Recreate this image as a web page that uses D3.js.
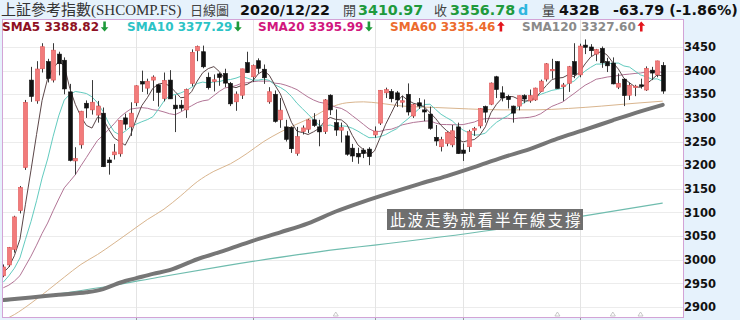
<!DOCTYPE html>
<html>
<head>
<meta charset="utf-8">
<script src="https://cdn.jsdelivr.net/npm/d3@7"></script>
<style>
  body { margin: 0; background: #e6f2fc; }
  svg { display: block; }
</style>
</head>
<body>
<div id="chart"></div>
<script>
// ---- DATA ----
const dates = ["2020-06-30",
  "2020-07-01","2020-07-02","2020-07-03","2020-07-06","2020-07-07","2020-07-08","2020-07-09","2020-07-10",
  "2020-07-13","2020-07-14","2020-07-15","2020-07-16","2020-07-17","2020-07-20","2020-07-21","2020-07-22",
  "2020-07-23","2020-07-24","2020-07-27","2020-07-28","2020-07-29","2020-07-30","2020-07-31",
  "2020-08-03","2020-08-04","2020-08-05","2020-08-06","2020-08-07","2020-08-10","2020-08-11","2020-08-12",
  "2020-08-13","2020-08-14","2020-08-17","2020-08-18","2020-08-19","2020-08-20","2020-08-21","2020-08-24",
  "2020-08-25","2020-08-26","2020-08-27","2020-08-28","2020-08-31",
  "2020-09-01","2020-09-02","2020-09-03","2020-09-04","2020-09-07","2020-09-08","2020-09-09","2020-09-10",
  "2020-09-11","2020-09-14","2020-09-15","2020-09-16","2020-09-17","2020-09-18","2020-09-21","2020-09-22",
  "2020-09-23","2020-09-24","2020-09-25","2020-09-28","2020-09-29","2020-09-30",
  "2020-10-09","2020-10-12","2020-10-13","2020-10-14","2020-10-15","2020-10-16","2020-10-19","2020-10-20",
  "2020-10-21","2020-10-22","2020-10-23","2020-10-26","2020-10-27","2020-10-28","2020-10-29","2020-10-30",
  "2020-11-02","2020-11-03","2020-11-04","2020-11-05","2020-11-06","2020-11-09","2020-11-10","2020-11-11",
  "2020-11-12","2020-11-13","2020-11-16","2020-11-17","2020-11-18","2020-11-19","2020-11-20","2020-11-23",
  "2020-11-24","2020-11-25","2020-11-26","2020-11-27","2020-11-30",
  "2020-12-01","2020-12-02","2020-12-03","2020-12-04","2020-12-07","2020-12-08","2020-12-09","2020-12-10",
  "2020-12-11","2020-12-14","2020-12-15","2020-12-16","2020-12-17","2020-12-18","2020-12-21","2020-12-22"];

const opens = [2966,
  2989,3022,3104,3195,3380,3336,3404,3419,3380,3435,3422,3355,3209,3243,3331,3317,3306,3310,3211,3222,3224,3300,3281,
  3332,3377,3363,3380,3370,3341,3380,3327,3327,3317,3373,3442,3440,3386,3377,3393,3394,3373,3334,3348,3417,
  3387,3421,3403,3334,3350,3296,3281,3280,3225,3271,3276,3296,3281,3271,3348,3290,3274,3262,3236,3225,3232,3234,
  3264,3289,3353,3356,3353,3334,3350,3304,3332,3317,3308,3259,3239,3246,3243,3281,
  3232,3239,3274,3283,3324,3329,3387,3353,3345,3325,3325,3347,3336,3338,3356,3382,3400,3419,3366,3373,3419,
  3391,3454,3450,3435,3447,3419,3416,3365,3382,3348,3365,3370,3359,3401,3391,3410.97];

const highs = [2990,
  3027,3093,3156,3338,3408,3420,3458,3425,3458,3440,3428,3372,3238,3315,3337,3380,3336,3322,3217,3245,3295,3309,3333,
  3369,3400,3383,3390,3372,3396,3401,3348,3338,3362,3445,3453,3453,3396,3392,3396,3404,3376,3356,3404,3440,
  3413,3426,3413,3365,3358,3342,3296,3282,3281,3284,3298,3310,3296,3340,3350,3318,3290,3272,3245,3237,3236,3238,
  3282,3359,3364,3361,3357,3347,3373,3330,3342,3339,3324,3285,3260,3271,3285,3290,
  3246,3275,3281,3321,3326,3375,3389,3367,3349,3326,3347,3350,3360,3364,3381,3416,3425,3420,3374,3410,3458,
  3457,3466,3456,3446,3451,3427,3428,3394,3384,3375,3370,3383,3409,3408,3421,3418];

const lows = [2963,
  2985,3015,3098,3190,3334,3330,3396,3375,3375,3390,3350,3208,3180,3235,3300,3307,3290,3196,3180,3212,3218,3275,3262,
  3325,3355,3350,3336,3324,3335,3340,3270,3315,3300,3367,3420,3405,3360,3356,3368,3365,3325,3315,3340,3395,
  3376,3394,3372,3330,3290,3279,3250,3226,3220,3265,3268,3281,3240,3266,3306,3262,3248,3220,3207,3203,3215,3200,
  3258,3285,3342,3333,3323,3322,3305,3300,3319,3293,3275,3241,3229,3240,3238,3224,
  3209,3228,3262,3278,3290,3327,3342,3335,3320,3290,3316,3331,3332,3336,3355,3377,3383,3362,3336,3355,3384,
  3386,3435,3431,3420,3406,3397,3371,3361,3325,3338,3346,3362,3357,3380,3386,3351];

const closes = [2984.67,
  3025.98,3090.57,3152.81,3332.88,3345.34,3403.44,3450.59,3383.32,3443.29,3414.62,3361.30,3210.10,3214.13,3314.15,
  3320.90,3333.16,3325.11,3196.77,3205.23,3227.96,3294.55,3286.82,3310.01,
  3367.97,3371.69,3377.56,3386.46,3354.04,3379.25,3340.29,3319.27,3320.73,3360.10,3438.80,3451.09,3408.13,3363.90,
  3380.68,3385.64,3373.58,3329.74,3350.44,3403.81,3395.68,
  3410.61,3404.80,3384.98,3355.37,3292.59,3316.42,3254.63,3234.82,3260.35,3278.81,3295.68,3283.92,3270.44,3338.09,
  3316.94,3274.30,3279.71,3223.18,3219.42,3217.53,3224.36,3218.05,
  3272.08,3358.47,3359.75,3340.52,3338.09,3336.36,3312.52,3328.10,3325.03,3312.50,3278.00,3251.12,3254.32,3269.24,
  3272.74,3224.53,
  3225.12,3271.07,3277.44,3320.13,3312.16,3373.73,3360.15,3342.20,3338.68,3310.10,3346.97,3339.90,3347.30,3363.09,
  3377.73,3414.49,3402.82,3362.33,3369.73,3408.31,3391.76,
  3451.94,3449.38,3442.14,3444.58,3416.60,3410.18,3371.96,3373.28,3347.19,3369.12,3367.23,3366.98,3404.87,3394.90,
  3420.57,3356.78];

// closes of the 19 sessions before the window (feed the short averages at the left edge)
const priorCloses = [2915.43,2921.40,2923.37,2919.25,2930.80,2937.77,2956.11,2943.75,2920.90,2919.74,
  2890.03,2931.75,2934.96,2939.32,2967.63,2965.27,2970.62,2979.55,2961.52];

// long averages: [session index, value]
const sma60Pts = [[0,2872],[2,2884],[5,2908],[8,2935],[11,2963],[14,2990],[17,3011],[20,3035],[23,3060],
  [26,3085],[29,3107],[32,3135],[35,3165],[38,3187],[41,3203],[44,3225],[47,3250],[50,3270],[53,3287],
  [56,3303],[59,3322],[62,3332],[65,3334],[68,3331],[72,3325],[78,3322],[84,3319],[90,3317],[96,3317],
  [102,3320],[108,3325],[114,3331],[119,3335.46]];
const sma120Pts = [[0,2915],[5,2920],[10,2926],[15,2931],[18,2938],[20,2947],[22,2955],[24,2961],[27,2970],
  [30,2978],[35,3001],[40,3020],[45,3040],[50,3058],[55,3077],[60,3102],[65,3123],[70,3142],[75,3160],
  [80,3177],[85,3196],[90,3216],[95,3234],[100,3256],[105,3275],[110,3295],[115,3314],[119,3327.60]];
const sma240Pts = [[0,2912],[20,2946],[28,2963],[40,2987],[61,3023],[67,3031],[89,3064],[104,3091],[119,3120]];

const eventIdx = [60, 100, 110, 115];
const yTicks = [2900,2950,3000,3050,3100,3150,3200,3250,3300,3350,3400,3450];

const legend = [
  {name: "SMA5",   value: "3388.82", up: false, color: "#8e1023"},
  {name: "SMA10",  value: "3377.29", up: false, color: "#2cc3c6"},
  {name: "SMA20",  value: "3395.99", up: false, color: "#d1177e"},
  {name: "SMA60",  value: "3335.46", up: true,  color: "#ec6b2d"},
  {name: "SMA120", value: "3327.60", up: true,  color: "#8a8a8a"}
];
const legendX = [2, 127, 258, 390, 522];

// ---- SETUP ----
const width = 740, height = 320;
const plot = {left: 2, top: 19, right: 683, bottom: 317};

const svg = d3.select("#chart").append("svg")
  .attr("width", width).attr("height", height);

svg.append("rect").attr("width", width).attr("height", height).attr("fill", "#e6f2fc");

svg.append("defs").append("clipPath").attr("id", "clip")
  .append("rect")
  .attr("x", plot.left).attr("y", plot.top)
  .attr("width", plot.right - plot.left).attr("height", plot.bottom - plot.top);

svg.append("rect")
  .attr("x", plot.left).attr("y", plot.top)
  .attr("width", plot.right - plot.left).attr("height", plot.bottom - plot.top)
  .attr("fill", "#fff");

const x = d3.scalePoint().domain(d3.range(dates.length)).range([3.3, 662.7]);
const xi = d3.scaleLinear().domain([0, dates.length - 1]).range([3.3, 662.7]);
const y = d3.scaleLinear().domain([2900, 3450]).range([307, 47]);

// ---- GRID ----
const grid = svg.append("g").attr("clip-path", "url(#clip)");
grid.selectAll(".hg").data(yTicks).enter().append("line")
  .attr("x1", plot.left).attr("x2", plot.right)
  .attr("y1", d => Math.round(y(d)) + 0.5).attr("y2", d => Math.round(y(d)) + 0.5)
  .attr("stroke", "#ececec");

const monthStarts = dates.map((d, i) => i).filter(i => i > 5 && dates[i].slice(5, 7) !== dates[i - 1].slice(5, 7));
grid.selectAll(".vg").data(monthStarts).enter().append("line")
  .attr("x1", d => Math.round(x(d)) + 0.5).attr("x2", d => Math.round(x(d)) + 0.5)
  .attr("y1", plot.top).attr("y2", plot.bottom)
  .attr("stroke", "#e4e4e4");

svg.selectAll(".mt").data(monthStarts).enter().append("line")
  .attr("x1", d => Math.round(x(d)) + 0.5).attr("x2", d => Math.round(x(d)) + 0.5)
  .attr("y1", plot.bottom).attr("y2", plot.bottom + 3)
  .attr("stroke", "#9a9a9a");

// ---- MOVING AVERAGES ----
function sma(n) {
  const all = priorCloses.concat(closes);
  const off = priorCloses.length;
  return closes.map((c, i) => {
    const j = i + off;
    if (j + 1 < n) return null;
    return d3.mean(all.slice(j - n + 1, j + 1));
  });
}

const lines = svg.append("g").attr("clip-path", "url(#clip)");
const ptLine = d3.line().x(d => xi(d[0])).y(d => y(d[1])).curve(d3.curveMonotoneX);
const smaLine = d3.line().defined(d => d != null).x((d, i) => x(i)).y(d => y(d));

lines.append("path").attr("d", ptLine(sma240Pts))
  .attr("fill", "none").attr("stroke", "#6fbcae").attr("stroke-width", 1.2);
lines.append("path").attr("d", ptLine(sma60Pts))
  .attr("fill", "none").attr("stroke", "#d9b58e").attr("stroke-width", 1);
lines.append("path").attr("d", ptLine(sma120Pts))
  .attr("fill", "none").attr("stroke", "#767676").attr("stroke-width", 4).attr("stroke-linecap", "round");
lines.append("path").attr("d", smaLine(sma(20)))
  .attr("fill", "none").attr("stroke", "#b27596").attr("stroke-width", 1);
lines.append("path").attr("d", smaLine(sma(10)))
  .attr("fill", "none").attr("stroke", "#62cbbf").attr("stroke-width", 1);
lines.append("path").attr("d", smaLine(sma(5)))
  .attr("fill", "none").attr("stroke", "#5b4648").attr("stroke-width", 1);

// ---- CANDLES ----
const candles = svg.append("g").attr("clip-path", "url(#clip)")
  .selectAll("g").data(dates.map((d, i) => i)).enter().append("g");

candles.append("line")
  .attr("x1", i => Math.round(x(i)) + 0.5).attr("x2", i => Math.round(x(i)) + 0.5)
  .attr("y1", i => y(highs[i])).attr("y2", i => y(lows[i]))
  .attr("stroke", "#3a3a3a");

candles.append("rect")
  .attr("x", i => Math.round(x(i)) - 1.5)
  .attr("y", i => y(Math.max(opens[i], closes[i])))
  .attr("width", 4)
  .attr("height", i => Math.max(1.5, Math.abs(y(opens[i]) - y(closes[i]))))
  .attr("fill", i => closes[i] >= opens[i] ? "#f27b7b" : "#111")
  .attr("stroke", i => closes[i] >= opens[i] ? "#e05555" : "#111")
  .attr("stroke-width", 0.6);

// event markers on the bottom edge
svg.selectAll(".ev").data(eventIdx).enter().append("path")
  .attr("d", i => `M${x(i) - 2.5},${plot.bottom - 1}L${x(i)},${plot.bottom - 5}L${x(i) + 2.5},${plot.bottom - 1}Z`)
  .attr("fill", "none").attr("stroke", "#bbb").attr("stroke-width", 0.8);

// plot frame
svg.append("rect")
  .attr("x", plot.left + 0.5).attr("y", plot.top + 0.5)
  .attr("width", plot.right - plot.left).attr("height", plot.bottom - plot.top)
  .attr("fill", "none").attr("stroke", "#d3a3d6");

// ---- Y AXIS ----
const yAxis = svg.append("g")
  .attr("transform", `translate(${plot.right + 1},0)`)
  .call(d3.axisRight(y).tickValues(yTicks).tickSize(0).tickPadding(0).tickFormat(d3.format("d")));
yAxis.select(".domain").remove();
yAxis.selectAll("text")
  .attr("font-family", "DejaVu Sans, Verdana, sans-serif")
  .attr("font-weight", "bold").attr("font-size", "11.5px").attr("fill", "#111");

// ---- HEADER ----
const head = svg.append("g");
const cjk = "'Liberation Serif', 'Noto Sans CJK TC', serif";
const bold = "'DejaVu Sans', Verdana, sans-serif";
const hanzi = "'Noto Sans CJK TC', sans-serif";
const headerItems = [
  {t: "上証參考指數(SHCOMP.FS)", x: 1, f: cjk, w: "normal", c: "#333", s: 15},
  {t: "日線圖", x: 190, f: hanzi, w: "normal", c: "#444", s: 13},
  {t: "2020/12/22", x: 240, f: bold, w: "bold", c: "#111"},
  {t: "開", x: 343, f: hanzi, w: "normal", c: "#444", s: 13},
  {t: "3410.97", x: 358, f: bold, w: "bold", c: "#1e9a3c"},
  {t: "收", x: 434, f: hanzi, w: "normal", c: "#444", s: 13},
  {t: "3356.78", x: 450, f: bold, w: "bold", c: "#1e9a3c"},
  {t: "d", x: 518, f: bold, w: "bold", c: "#2fb6de"},
  {t: "量", x: 542, f: hanzi, w: "normal", c: "#444", s: 13},
  {t: "432B", x: 559, f: bold, w: "bold", c: "#111"},
  {t: "-63.79 (-1.86%)", x: 613, f: bold, w: "bold", c: "#111"}
];
head.selectAll("text").data(headerItems).enter().append("text")
  .attr("x", d => d.x).attr("y", 15)
  .attr("font-family", d => d.f).attr("font-weight", d => d.w)
  .attr("font-size", d => (d.s || 14.3) + "px")
  .attr("fill", d => d.c)
  .text(d => d.t);

// ---- LEGEND ----
const leg = svg.append("g").selectAll("g").data(legend).enter().append("g");
leg.append("text")
  .attr("x", (d, i) => legendX[i]).attr("y", 31)
  .attr("font-family", bold).attr("font-weight", "bold").attr("font-size", "12px")
  .attr("fill", d => d.color)
  .text(d => d.name + " " + d.value)
  .each(function(d) { d.end = this.getComputedTextLength(); });
// bold arrows after each value
leg.append("path")
  .attr("transform", (d, i) => `translate(${legendX[i] + d.end + 5.5},26.5)`)
  .attr("d", d => d.up
    ? "M-1.3,5V-0.8H-3.8L0,-5L3.8,-0.8H1.3V5Z"
    : "M-1.3,-5V0.8H-3.8L0,5L3.8,0.8H1.3V-5Z")
  .attr("fill", d => d.up ? "#e3141b" : "#1d9a3a");

// ---- ANNOTATION ----
svg.append("rect")
  .attr("x", 387).attr("y", 209).attr("width", 196).attr("height", 21)
  .attr("fill", "#6f6f6f");
svg.append("text")
  .attr("x", 390).attr("y", 226)
  .attr("font-family", hanzi)
  .attr("font-size", "15.5px").attr("letter-spacing", "2px")
  .attr("fill", "#fff")
  .text("此波走勢就看半年線支撐");
</script>
</body>
</html>
